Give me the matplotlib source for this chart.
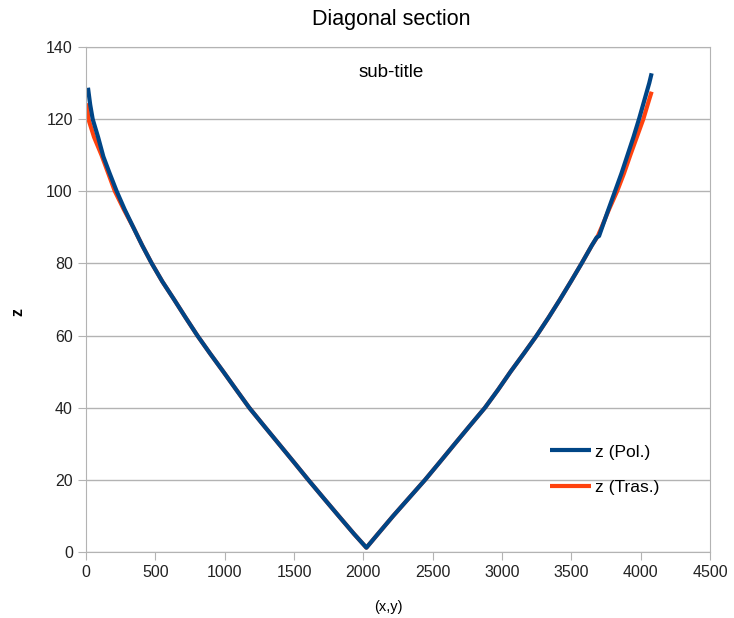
import matplotlib
matplotlib.use('Agg')
import matplotlib.pyplot as plt
import matplotlib.ticker as ticker

# ======== Data ========
pol_x = [14, 30, 48, 87, 125, 170, 221, 278, 341, 405, 474, 550, 635, 718, 803, 895, 990,
         1083, 1177, 1283, 1390, 1497, 1603, 1712, 1822, 1933, 2022,
         2105, 2215, 2330, 2445, 2553, 2660, 2768, 2877, 2972, 3062, 3157, 3250, 3336, 3418,
         3497, 3574, 3648, 3683, 3700, 3722, 3768, 3815, 3862, 3905, 3948, 3988, 4025, 4062, 4079]
pol_z = [128.7, 124.0, 120.0, 115.0, 109.6, 105.0, 100.0, 95.0, 90.0, 85.0, 80.0, 75.0, 70.0, 65.0, 60.0, 55.0, 50.0,
         45.0, 40.0, 35.0, 30.0, 25.0, 20.0, 15.0, 10.0, 5.0, 1.2,
         5.0, 10.0, 15.0, 20.0, 25.0, 30.0, 35.0, 40.0, 45.0, 50.0, 55.0, 60.0, 65.0, 70.0,
         75.0, 80.0, 85.0, 87.2, 87.6, 90.0, 95.0, 100.0, 105.0, 110.0, 115.0, 120.0, 125.0, 130.0, 132.7]

tras_x = [5, 17, 58, 112, 160, 208, 272, 341, 405, 474, 550, 635, 718, 803, 895, 990,
          1083, 1177, 1283, 1390, 1497, 1603, 1712, 1822, 1933, 2022,
          2105, 2215, 2330, 2445, 2553, 2660, 2768, 2877, 2972, 3062, 3157, 3250, 3336, 3418,
          3497, 3574, 3648, 3690, 3718, 3772, 3830, 3880, 3925, 3972, 4019, 4058, 4079]
tras_z = [124.4, 120.0, 115.0, 110.0, 105.0, 100.0, 95.0, 90.0, 85.0, 80.0, 75.0, 70.0, 65.0, 60.0, 55.0, 50.0,
          45.0, 40.0, 35.0, 30.0, 25.0, 20.0, 15.0, 10.0, 5.0, 1.2,
          5.0, 10.0, 15.0, 20.0, 25.0, 30.0, 35.0, 40.0, 45.0, 50.0, 55.0, 60.0, 65.0, 70.0,
          75.0, 80.0, 85.0, 87.5, 90.0, 95.0, 100.0, 105.0, 110.0, 115.0, 120.0, 125.0, 127.6]

# ======== Style ========
plt.rcParams.update({
    'font.family': ['Liberation Sans', 'DejaVu Sans'], 'font.size': 11,
})
grey = '#b3b3b3'

fig = plt.figure(figsize=(7.34, 6.18), dpi=100)
ax = fig.add_axes([0.1172, 0.1068, 0.8501, 0.8172])

ax.plot(tras_x, tras_z, color='#ff420e', lw=3, solid_capstyle='butt',
        solid_joinstyle='round', label='z (Tras.)')
ax.plot(pol_x, pol_z, color='#004586', lw=3, solid_capstyle='butt',
        solid_joinstyle='round', label='z (Pol.)')

ax.set_xlim(0, 4500); ax.set_ylim(0, 140)
ax.xaxis.set_major_locator(ticker.MultipleLocator(500))
ax.yaxis.set_major_locator(ticker.MultipleLocator(20))
ax.grid(True, axis='y', color=grey, lw=1)
ax.set_axisbelow(True)
for s in ax.spines.values():
    s.set_color(grey)
ax.tick_params(colors=grey, labelcolor='#222222', length=5.5, labelsize=11.5, pad=4)

ax.set_xlabel('(x,y)', fontsize=10.5, labelpad=14, x=0.484)
ax.set_ylabel('z', fontsize=11.5, fontweight='bold', labelpad=15, y=0.475)
fig.suptitle('Diagonal section', fontsize=15.5, x=0.533, y=0.985)
ax.text(0.489, 0.966, 'sub-title', transform=ax.transAxes, ha='center', va='top', fontsize=13.5)

h, l = ax.get_legend_handles_labels()
ax.legend(h[::-1], l[::-1], loc='upper left', bbox_to_anchor=(0.718, 0.244), frameon=False,
          handlelength=2.4, handletextpad=0.2, labelspacing=1.18, fontsize=12.5)

fig.savefig('out.png', dpi=100)
